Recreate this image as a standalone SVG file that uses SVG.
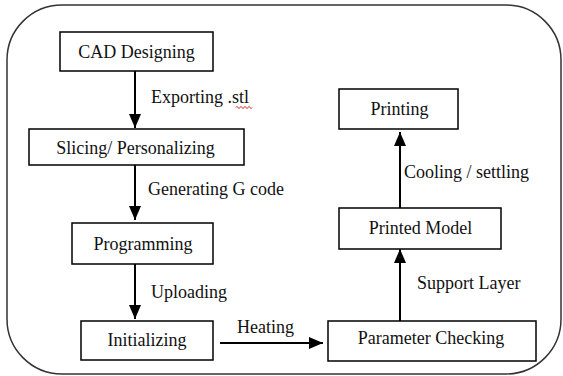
<svg xmlns="http://www.w3.org/2000/svg" width="563" height="376" viewBox="0 0 563 376">
<defs>
<marker id="ah" markerUnits="userSpaceOnUse" markerWidth="14" markerHeight="14" viewBox="0 0 14 12" refX="14" refY="6" orient="auto">
<path d="M0,0 L14,6 L0,12 Z" fill="#000"/>
</marker>
</defs>
<style>
.box{fill:#fff;stroke:#000;stroke-width:1.5}
.t{font-family:'Liberation Serif','Times New Roman',Tinos,'Noto Serif','DejaVu Serif',serif;font-size:18px;fill:#111}
.c{text-anchor:middle}
.ln{stroke:#000;stroke-width:2;fill:none}
</style>
<rect x="7" y="5" width="554" height="369" rx="55" ry="55" fill="#fff" stroke="#333" stroke-width="1.5"/>
<g id="connectors">
<line class="ln" x1="135" y1="71" x2="135" y2="128" marker-end="url(#ah)"/>
<line class="ln" x1="135" y1="165" x2="135" y2="220" marker-end="url(#ah)"/>
<line class="ln" x1="135" y1="264" x2="135" y2="319" marker-end="url(#ah)"/>
<line class="ln" x1="220" y1="343" x2="323" y2="343" marker-end="url(#ah)"/>
<line class="ln" x1="400" y1="321" x2="400" y2="249" marker-end="url(#ah)"/>
<line class="ln" x1="400" y1="208" x2="400" y2="132" marker-end="url(#ah)"/>
<text class="t" x="151" y="103">Exporting .stl</text>
<path d="M236,107.5 q1,-2 2,0 t2,0 t2,0 t2,0 t2,0 t2,0 t2,0 t2,0" fill="none" stroke="#d00" stroke-width="1"/>
<text class="t" x="148" y="195">Generating G code</text>
<text class="t" x="151" y="298">Uploading</text>
<text class="t" x="237" y="333">Heating</text>
<text class="t" x="417" y="289">Support Layer</text>
<text class="t" x="404" y="178">Cooling / settling</text>
</g>
<g id="cad"><rect class="box" x="60" y="32" width="153" height="39"/><text class="t c" x="136.5" y="58">CAD Designing</text></g>
<g id="slicing"><rect class="box" x="29" y="129" width="215" height="36"/><text class="t c" x="135.5" y="154">Slicing/ Personalizing</text></g>
<g id="programming"><rect class="box" x="72" y="223" width="141" height="41"/><text class="t c" x="143" y="250">Programming</text></g>
<g id="initializing"><rect class="box" x="81" y="321" width="132" height="39"/><text class="t c" x="147" y="346">Initializing</text></g>
<g id="parameter"><rect class="box" x="328" y="321" width="208" height="40"/><text class="t c" x="431" y="344">Parameter Checking</text></g>
<g id="printed"><rect class="box" x="339" y="208" width="162" height="41"/><text class="t c" x="420.5" y="234">Printed Model</text></g>
<g id="printing"><rect class="box" x="339" y="89" width="119" height="40"/><text class="t c" x="399.5" y="115">Printing</text></g>
</svg>
